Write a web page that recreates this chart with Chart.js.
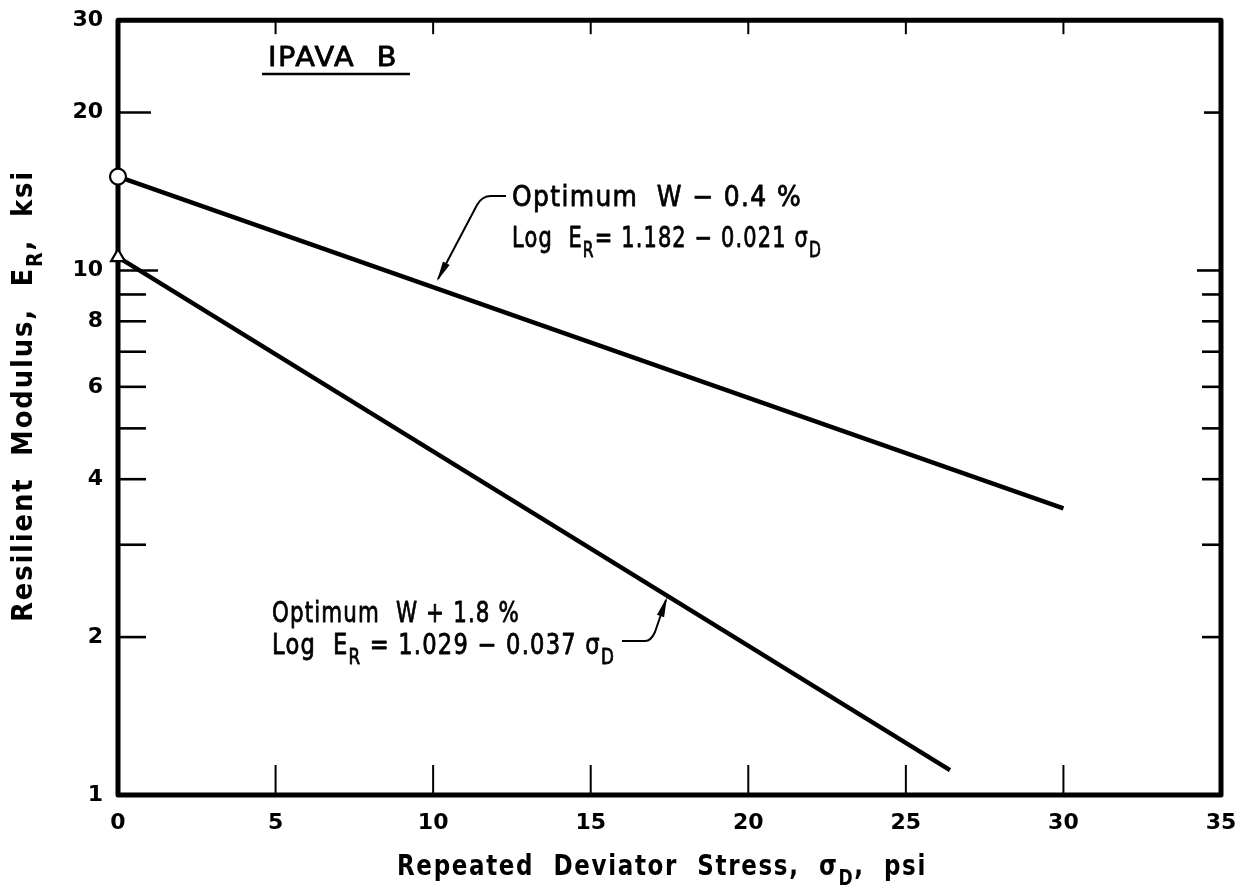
<!DOCTYPE html>
<html><head><meta charset="utf-8">
<script src="https://cdn.jsdelivr.net/npm/chart.js@4.4.1/dist/chart.umd.min.js"></script>
<style>html,body{margin:0;padding:0;background:#fff;} canvas{display:block;}</style>
</head><body>
<canvas id="c" width="1244" height="888"></canvas>
<script>
// ---- data ----
const stressDry = [0, 30];          // Optimum W - 0.4 %
const modulusDry = [15.1, 3.52];
const stressWet = [0, 26.4];        // Optimum W + 1.8 %
const modulusWet = [10.6, 1.115];
const xTickValues = [0, 5, 10, 15, 20, 25, 30, 35];
const yTickValues = [1, 2, 3, 4, 5, 6, 7, 8, 9, 10, 20, 30];
const yTickLabels = {1: '1', 2: '2', 4: '4', 6: '6', 8: '8', 10: '10', 20: '20', 30: '30'};
const innerTicksY = [2, 3, 4, 5, 6, 7, 8, 9, 10, 20];
const innerTicksX = [5, 10, 15, 20, 25, 30];

const FONT = '"DejaVu Sans", "Liberation Sans", sans-serif';
function setFont(ctx, size, weight) { ctx.font = weight + ' ' + size + 'px ' + FONT; }
function drawRich(ctx, parts, x, yCenter, opt) {
  const size = opt.size, weight = opt.weight || 'normal';
  const ls = opt.ls !== undefined ? opt.ls : 1.5;
  const subScale = 0.74, subDy = size * 0.34;
  ctx.save();
  ctx.letterSpacing = '0px';
  let total = 0;
  const widths = parts.map(p => {
    setFont(ctx, p.sub ? size * subScale : size, weight);
    const w = ctx.measureText(p.t).width + ls * p.t.length; total += w; return w;
  });
  const sx = opt.width ? opt.width / total : 1;
  const drawnW = total * sx;
  const x0 = opt.align === 'center' ? x - drawnW / 2 : x;
  ctx.translate(x0, yCenter);
  ctx.scale(sx, 1);
  const base = size * 0.365;
  ctx.textAlign = 'left'; ctx.textBaseline = 'alphabetic'; ctx.fillStyle = '#000';
  ctx.strokeStyle = '#000'; ctx.lineWidth = opt.thicken || 0; ctx.lineJoin = 'round';
  let cx = 0;
  parts.forEach((p, i) => {
    setFont(ctx, p.sub ? size * subScale : size, weight);
    ctx.letterSpacing = ls + 'px';
    const yy = base + (p.sub ? subDy : 0);
    ctx.fillText(p.t, cx, yy);
    if (opt.thicken) ctx.strokeText(p.t, cx, yy);
    cx += widths[i];
  });
  ctx.restore();
}
function arrowHead(ctx, fx, fy, tx, ty, len, half) {
  const a = Math.atan2(ty - fy, tx - fx);
  const bx = tx - len * Math.cos(a), by = ty - len * Math.sin(a);
  const px = -Math.sin(a) * half, py = Math.cos(a) * half;
  ctx.beginPath(); ctx.moveTo(tx, ty); ctx.lineTo(bx + px, by + py); ctx.lineTo(bx - px, by - py); ctx.closePath(); ctx.fill();
}

const framePlugin = {
  id: 'frame',
  beforeDatasetsDraw(chart) {
    const ctx = chart.ctx, a = chart.chartArea, xs = chart.scales.x, ys = chart.scales.y;
    ctx.save();
    ctx.strokeStyle = '#000'; ctx.lineWidth = 5; ctx.lineJoin = 'round';
    ctx.strokeRect(a.left, a.top, a.right - a.left, a.bottom - a.top);
    ctx.lineWidth = 2.6; ctx.lineCap = 'butt';
    innerTicksY.forEach(v => {
      const y = ys.getPixelForValue(v);
      const lenL = v === 10 ? 40 : (v === 20 ? 33 : 28);
      const lenR = v === 10 ? 24 : (v === 20 ? 17 : 19);
      ctx.beginPath(); ctx.moveTo(a.left, y); ctx.lineTo(a.left + lenL, y); ctx.stroke();
      ctx.beginPath(); ctx.moveTo(a.right, y); ctx.lineTo(a.right - lenR, y); ctx.stroke();
    });
    ctx.lineWidth = 2;
    innerTicksX.forEach(v => {
      const x = xs.getPixelForValue(v);
      ctx.beginPath(); ctx.moveTo(x, a.top); ctx.lineTo(x, a.top + 14); ctx.stroke();
      ctx.beginPath(); ctx.moveTo(x, a.bottom); ctx.lineTo(x, a.bottom - 30); ctx.stroke();
    });
    ctx.restore();
  },
  afterDraw(chart) {
    const ctx = chart.ctx;
    ctx.save();
    // IPAVA B
    drawRich(ctx, [{t: 'IPAVA  B'}], 268, 56, {size: 27, width: 130, thicken: 0.8});
    ctx.lineWidth = 2.5; ctx.strokeStyle = '#000';
    ctx.beginPath(); ctx.moveTo(262, 74); ctx.lineTo(410, 74); ctx.stroke();
    // annotation 1
    drawRich(ctx, [{t: 'Optimum  W − 0.4 %'}], 512, 196, {size: 28, width: 290, thicken: 0.8});
    drawRich(ctx, [{t: 'Log  E'}, {t: 'R', sub: true}, {t: '= 1.182 − 0.021 σ'}, {t: 'D', sub: true}], 512, 237, {size: 28, width: 310, thicken: 0.8});
    ctx.lineWidth = 2; ctx.fillStyle = '#000'; ctx.strokeStyle = '#000';
    ctx.beginPath(); ctx.moveTo(506, 196); ctx.lineTo(491, 196);
    ctx.quadraticCurveTo(482, 196, 477, 205); ctx.lineTo(438, 279); ctx.stroke();
    arrowHead(ctx, 477, 205, 437, 281, 20, 3.8);
    // annotation 2
    drawRich(ctx, [{t: 'Optimum  W + 1.8 %'}], 272, 612, {size: 28, width: 248, thicken: 0.8});
    drawRich(ctx, [{t: 'Log  E'}, {t: 'R', sub: true}, {t: ' = 1.029 − 0.037 σ'}, {t: 'D', sub: true}], 272, 644, {size: 28, width: 343, thicken: 0.8});
    ctx.lineWidth = 2;
    ctx.beginPath(); ctx.moveTo(622, 641); ctx.lineTo(645, 641);
    ctx.quadraticCurveTo(651, 641, 655, 632); ctx.lineTo(666, 600); ctx.stroke();
    arrowHead(ctx, 655, 632, 667, 597, 20, 3.8);
    // axis titles
    drawRich(ctx, [{t: 'Repeated  Deviator  Stress,  σ'}, {t: 'D', sub: true}, {t: ',  psi'}], 662, 865, {size: 28, weight: 'bold', width: 530, align: 'center', ls: 2});
    ctx.translate(22, 396); ctx.rotate(-Math.PI / 2);
    drawRich(ctx, [{t: 'Resilient  Modulus,  E'}, {t: 'R', sub: true}, {t: ',  ksi'}], 0, 0, {size: 28, weight: 'bold', width: 452, align: 'center', ls: 2});
    ctx.restore();
  }
};

const tickFont = {family: FONT, size: 22, weight: 'bold'};
new Chart(document.getElementById('c'), {
  type: 'line',
  data: {
    datasets: [
      {
        data: stressDry.map((x, i) => ({x: x, y: modulusDry[i]})),
        borderColor: '#000', borderWidth: 4.5, tension: 0, clip: false,
        pointStyle: 'circle', pointRadius: [8, 0], pointBorderWidth: 2.2,
        pointBackgroundColor: '#fff', pointBorderColor: '#000'
      },
      {
        data: stressWet.map((x, i) => ({x: x, y: modulusWet[i]})),
        borderColor: '#000', borderWidth: 4.5, tension: 0, clip: false,
        pointStyle: 'triangle', pointRadius: [8, 0], pointBorderWidth: 2.2,
        pointBackgroundColor: '#fff', pointBorderColor: '#000'
      }
    ]
  },
  options: {
    responsive: false, animation: false, devicePixelRatio: 1,
    layout: {padding: {left: 0, right: 23, top: 12, bottom: 0}},
    plugins: {legend: {display: false}, tooltip: {enabled: false}},
    scales: {
      x: {
        type: 'linear', min: 0, max: 35,
        grid: {display: false}, border: {display: false},
        afterBuildTicks: s => { s.ticks = xTickValues.map(v => ({value: v})); },
        afterFit: s => { s.height = 93; },
        ticks: {autoSkip: false, maxRotation: 0, color: '#000', font: tickFont, padding: 7}
      },
      y: {
        type: 'logarithmic', min: 1, max: 30,
        grid: {display: false}, border: {display: false},
        afterBuildTicks: s => { s.ticks = yTickValues.map(v => ({value: v})); },
        afterFit: s => { s.width = 118; },
        ticks: {autoSkip: false, color: '#000', font: tickFont, padding: 7,
          callback: v => (yTickLabels[v] !== undefined ? yTickLabels[v] : '')}
      }
    }
  },
  plugins: [framePlugin]
});
</script>
</body></html>
